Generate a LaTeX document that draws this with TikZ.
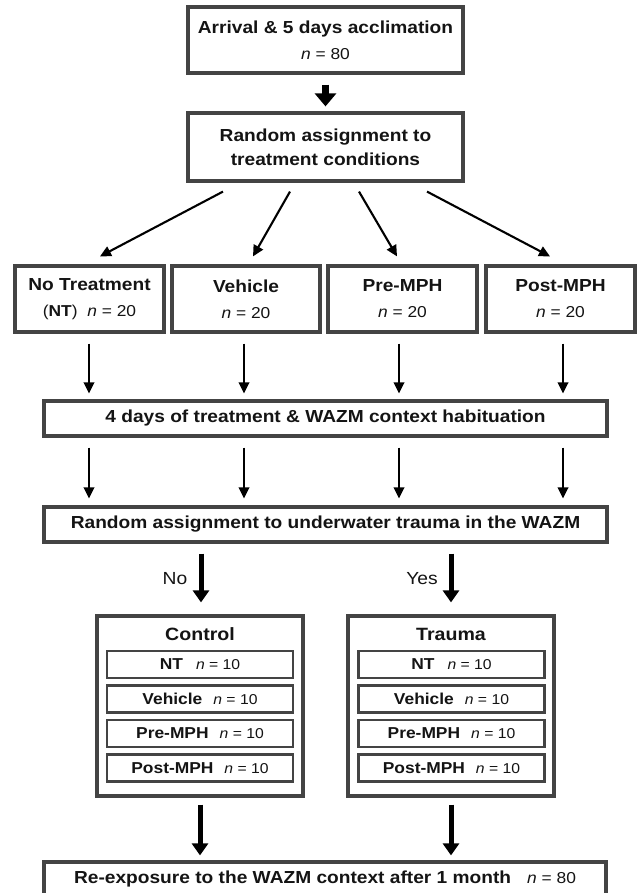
\documentclass[tikz,border=0pt]{standalone}
\usepackage{fontspec}
\setmainfont[FakeStretch=1.1]{Liberation Sans}
\usetikzlibrary{arrows.meta,calc}
\definecolor{bordergray}{RGB}{68,68,68}
\definecolor{inkblack}{RGB}{20,20,20}
\newcommand\Bf{\fontsize{17.4}{26}\selectfont\bfseries}
\newcommand\Nf{\fontsize{15.8}{27}\selectfont\mdseries}
\newcommand\Sf{\fontsize{15.8}{20}\selectfont\bfseries}
\newcommand\Tf{\fontsize{14.3}{20}\selectfont\mdseries}
\begin{document}
\begin{tikzpicture}[x=1pt,y=1pt,
  box/.style={draw=bordergray, line width=3.2pt, fill=white, inner sep=0pt, align=center, text=inkblack, font=\Bf},
  inbox/.style={draw=bordergray, line width=2.7pt, fill=white, inner sep=0pt, minimum width=186pt, minimum height=27pt, text=inkblack, font=\Sf},
  plain/.style={inner sep=0pt, text=inkblack},
  thinarr/.style={line width=2.1pt, draw=black, -{Triangle[length=11pt,width=10.5pt]}},
  thickarr/.style={line width=5pt, draw=black, -{Triangle[length=12pt,width=16pt]}},
  bigarr/.style={line width=6.5pt, draw=black, -{Triangle[length=13pt,width=21pt]}}
]
\useasboundingbox (0,0) rectangle (639,893);
\fill[white] (0,0) rectangle (639,893);

% top boxes
\node[box, minimum width=275pt, minimum height=66pt] (arrival) at (325.5,853)
  {Arrival \& 5 days acclimation\\{\Nf\textit{n} = 80}};
\node[box, minimum width=275pt, minimum height=68pt, font=\fontsize{17.4}{24}\selectfont\bfseries] (rand) at (325.5,746)
  {Random assignment to\\treatment conditions};

% treatment boxes
\node[box, minimum width=149pt, minimum height=66pt] (nt) at (89.5,594)
  {No Treatment\\{\Nf(\textbf{NT})\ \ \textit{n} = 20}};
\node[box, minimum width=148pt, minimum height=66pt] (veh) at (246,594)
  {Vehicle\\{\Nf\textit{n} = 20}};
\node[box, minimum width=149pt, minimum height=66pt] (pre) at (402.5,594)
  {Pre-MPH\\{\Nf\textit{n} = 20}};
\node[box, minimum width=149pt, minimum height=66pt] (post) at (560.5,594)
  {Post-MPH\\{\Nf\textit{n} = 20}};

% wide boxes
\node[box, minimum width=563pt, minimum height=35pt] (treat) at (325.5,474.5)
  {4 days of treatment \& WAZM context habituation};
\node[box, minimum width=563pt, minimum height=35pt] (wazm) at (325.5,368.5)
  {Random assignment to underwater trauma in the WAZM};

% control / trauma
\node[box, minimum width=206pt, minimum height=180pt] (control) at (200,187) {};
\node[box, minimum width=206pt, minimum height=180pt] (trauma) at (451,187) {};
\node[plain, font=\fontsize{17.8}{20}\selectfont\bfseries] (ctitle) at (200,259) {Control};
\node[plain, font=\fontsize{17.8}{20}\selectfont\bfseries] (ttitle) at (451,259) {Trauma};

\node[inbox] (c1) at (200,228.5) {NT\hspace{13pt}{\Tf\textit{n} = 10}};
\node[inbox] (c2) at (200,194)   {Vehicle\hspace{11pt}{\Tf\textit{n} = 10}};
\node[inbox] (c3) at (200,159.5) {Pre-MPH\hspace{11pt}{\Tf\textit{n} = 10}};
\node[inbox] (c4) at (200,125)   {Post-MPH\hspace{11pt}{\Tf\textit{n} = 10}};
\node[inbox] (t1) at (451.5,228.5) {NT\hspace{13pt}{\Tf\textit{n} = 10}};
\node[inbox] (t2) at (451.5,194)   {Vehicle\hspace{11pt}{\Tf\textit{n} = 10}};
\node[inbox] (t3) at (451.5,159.5) {Pre-MPH\hspace{11pt}{\Tf\textit{n} = 10}};
\node[inbox] (t4) at (451.5,125)   {Post-MPH\hspace{11pt}{\Tf\textit{n} = 10}};

% bottom box
\node[box, minimum width=562pt, minimum height=44pt] (reexp) at (325,9) {};
\node[plain, font=\Bf] (reexptext) at ([yshift=5pt]reexp.center)
  {Re-exposure to the WAZM context after 1 month\hspace{16pt}{\Nf\textit{n} = 80}};

% No / Yes labels
\node[plain, font=\fontsize{17.5}{20}\selectfont] (nolab) at (175,314) {No};
\node[plain, font=\fontsize{17.5}{20}\selectfont] (yeslab) at (422,314) {Yes};

% arrows
\draw[bigarr] ([yshift=-10pt]arrival.south) -- ([yshift=5pt]rand.north);

\draw[thinarr] ([shift={(-102.5pt,-9pt)}]rand.south) -- ([shift={(10.5pt,8pt)}]nt.north);
\draw[thinarr] ([shift={(-35.5pt,-9pt)}]rand.south) -- ([shift={(7pt,8pt)}]veh.north);
\draw[thinarr] ([shift={(33.5pt,-9pt)}]rand.south) -- ([shift={(-5.5pt,8pt)}]pre.north);
\draw[thinarr] ([shift={(101.5pt,-9pt)}]rand.south) -- ([shift={(-10.5pt,8pt)}]post.north);

\foreach \n/\dx in {nt/-0.5, veh/-2, pre/-3.5, post/2.5}{
  \draw[thinarr] ([shift={(\dx pt,-10pt)}]\n.south) -- ([shift={(\dx pt,6pt)}]\n.south |- treat.north);
  \draw[thinarr] ([shift={(\dx pt,-10pt)}]\n.south |- treat.south) -- ([shift={(\dx pt,7pt)}]\n.south |- wazm.north);
}

\draw[thickarr] ([shift={(1pt,-10pt)}]control.north |- wazm.south) -- ([shift={(1pt,12pt)}]control.north);
\draw[thickarr] ([yshift=-10pt]trauma.north |- wazm.south) -- ([yshift=12pt]trauma.north);

\draw[thickarr] ([yshift=-7pt]control.south) -- ([yshift=5pt]control.south |- reexp.north);
\draw[thickarr] ([yshift=-7pt]trauma.south) -- ([yshift=5pt]trauma.south |- reexp.north);
\end{tikzpicture}
\end{document}
